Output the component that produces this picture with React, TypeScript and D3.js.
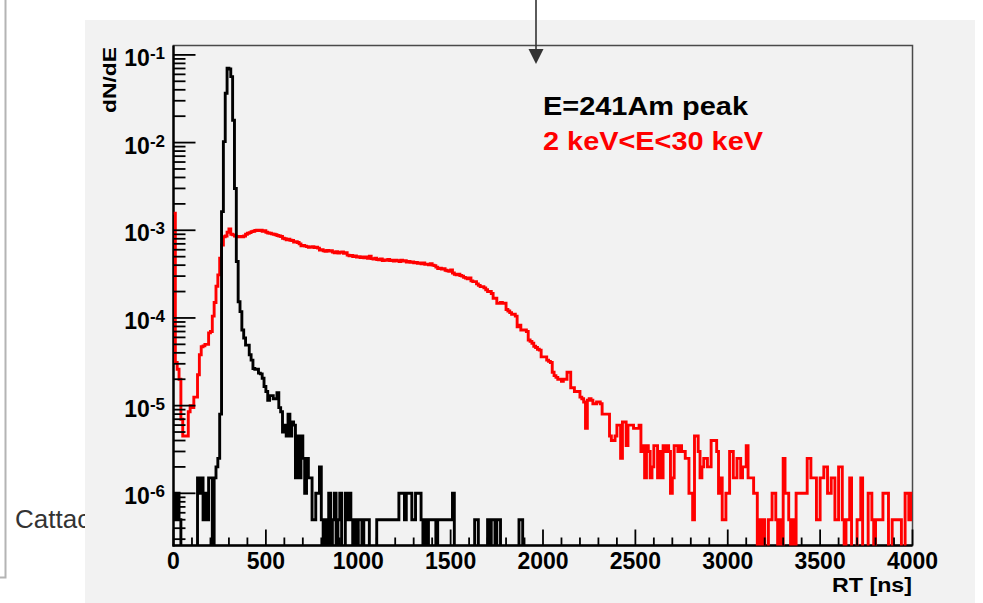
import React from 'react';
import * as d3 from 'd3';

const W = 983;
const H = 603;

// histogram binning: 400 bins of 10 ns from 0 to 4000 ns
const BIN_NS = 10;
// normalisation of one entry (dN/dE per count)
const COUNT_UNIT = 5e-7;

// black: E = 241Am peak (counts per bin)
const amPeakCounts = [
  2, 1, 2, 1, 0, 0, 0, 0, 0, 0,
  0, 0, 0, 3, 2, 3, 1, 2, 1, 3,
  3, 0, 3, 4, 5, 16, 3260, 20500, 73000, 141000,
  138000, 113000, 36000, 6000, 880, 306, 236, 146, 118, 98,
  98, 76, 66, 53, 52, 52, 47, 46, 41, 33,
  29, 23, 26, 26, 24, 24, 28, 19, 17, 10,
  12, 9, 16, 9, 13, 12, 3, 9, 3, 9,
  5, 2, 5, 3, 3, 1, 1, 2, 2, 4,
  1, 0, 1, 0, 2, 0, 1, 2, 0, 1,
  2, 0, 0, 2, 1, 2, 1, 0, 1, 0,
  1, 1, 0, 1, 1, 1, 0, 0, 0, 0,
  1, 1, 1, 1, 1, 1, 1, 1, 1, 1,
  1, 1, 2, 2, 2, 1, 2, 2, 2, 1,
  1, 2, 2, 2, 1, 0, 1, 0, 1, 1,
  1, 1, 0, 1, 1, 1, 1, 1, 1, 1,
  1, 2, 0, 0, 0, 0, 0, 0, 0, 0,
  0, 0, 0, 1, 1, 0, 0, 0, 0, 0,
  1, 0, 1, 1, 0, 1, 1, 0, 0, 0,
  0, 0, 0, 0, 0, 0, 0, 1, 1, 0,
  0, 0, 0, 0, 0, 0, 0, 0, 0, 0,
  0, 0, 0, 0, 0, 0, 0, 0, 0, 0,
  0, 0, 0, 0, 0, 0, 0, 0, 0, 0,
  0, 0, 0, 0, 0, 0, 0, 0, 0, 0,
  0, 0, 0, 0, 0, 0, 0, 0, 0, 0,
  0, 0, 0, 0, 0, 0, 0, 0, 0, 0,
  0, 0, 0, 0, 0, 0, 0, 0, 0, 0,
  0, 0, 0, 0, 0, 0, 0, 0, 0, 0,
  0, 0, 0, 0, 0, 0, 0, 0, 0, 0,
  0, 0, 0, 0, 0, 0, 0, 0, 0, 0,
  0, 0, 0, 0, 0, 0, 0, 0, 0, 0,
  0, 0, 0, 0, 0, 0, 0, 0, 0, 0,
  0, 0, 0, 0, 0, 0, 0, 0, 0, 0,
  0, 0, 0, 0, 0, 0, 0, 0, 0, 0,
  0, 0, 0, 0, 0, 0, 0, 0, 0, 0,
  0, 0, 0, 0, 0, 0, 0, 0, 0, 0,
  0, 0, 0, 0, 0, 0, 0, 0, 0, 0,
  0, 0, 0, 0, 0, 0, 0, 0, 0, 0,
  0, 0, 0, 0, 0, 0, 0, 0, 0, 0,
  0, 0, 0, 0, 0, 0, 0, 0, 0, 0,
  0, 0, 0, 0, 0, 0, 0, 0, 0, 0,
];

// red: 2 keV < E < 30 keV (counts per bin)
const lowEnergyCounts = [
  3130, 62, 52, 40, 14, 9, 9, 9, 17, 20,
  19, 25, 25, 45, 76, 94, 96, 100, 100, 135,
  140, 210, 300, 460, 620, 960, 1360, 1690, 1720, 1900,
  2070, 1800, 1770, 1720, 1700, 1690, 1700, 1680, 1720, 1800,
  1850, 1880, 1930, 1950, 1990, 2010, 1990, 2000, 1950, 1980,
  1900, 1860, 1850, 1820, 1800, 1780, 1740, 1720, 1700, 1620,
  1600, 1560, 1580, 1540, 1530, 1470, 1480, 1450, 1400, 1330,
  1340, 1320, 1300, 1280, 1290, 1300, 1270, 1280, 1250, 1190,
  1200, 1170, 1150, 1180, 1160, 1170, 1130, 1110, 1140, 1100,
  1120, 1130, 1090, 1110, 1040, 1020, 1030, 1000, 1020, 990,
  1000, 980, 990, 970, 990, 960, 1010, 950, 940, 960,
  930, 920, 940, 900, 920, 910, 930, 900, 910, 890,
  910, 900, 880, 910, 890, 900, 870, 880, 860, 870,
  850, 860, 840, 850, 830, 850, 820, 820, 810, 830,
  800, 790, 760, 730, 740, 720, 730, 700, 690, 680,
  705, 650, 630, 620, 630, 610, 600, 580, 571, 560,
  571, 530, 519, 519, 490, 470, 455, 455, 440, 420,
  400, 400, 380, 335, 335, 294, 294, 300, 294, 294,
  250, 240, 230, 220, 220, 210, 159, 165, 146, 146,
  146, 140, 112, 108, 103, 95, 92, 88, 86, 72,
  72, 72, 66, 64, 62, 48, 44, 42, 40, 40,
  38, 40, 40, 48, 48, 32, 32, 29, 29, 29,
  25, 24, 22, 11, 23, 24, 23, 21, 21, 22,
  22, 21, 16, 16, 16, 16, 9, 8, 8, 9,
  12, 12, 5, 13, 13, 7, 12, 12, 12, 11,
  11, 11, 12, 6, 7, 3, 7, 6, 3, 4,
  7, 7, 3, 6, 3, 7, 6, 7, 6, 2,
  3, 7, 7, 6, 7, 6, 6, 5, 5, 2,
  2, 1, 9, 9, 6, 3, 4, 5, 5, 4,
  4, 8, 8, 8, 6, 2, 3, 1, 1, 2,
  2, 6, 6, 3, 3, 5, 5, 3, 4, 4,
  7, 3, 3, 3, 2, 2, 0, 1, 0, 1,
  0, 0, 1, 1, 2, 2, 1, 0, 1, 0,
  5, 2, 2, 1, 0, 1, 0, 2, 2, 2,
  2, 2, 2, 5, 5, 3, 3, 3, 1, 1,
  3, 3, 4, 4, 2, 2, 3, 3, 1, 1,
  4, 4, 1, 0, 1, 1, 3, 0, 0, 0,
  1, 1, 3, 0, 0, 0, 2, 2, 1, 0,
  1, 1, 1, 1, 2, 2, 2, 0, 0, 1,
  1, 1, 1, 1, 0, 0, 2, 2, 1, 2,
];

const xTickValues = [0, 500, 1000, 1500, 2000, 2500, 3000, 3500, 4000];
const yDecadeExponents = [-6, -5, -4, -3, -2, -1];
const legendLabels = ['E=241Am peak', '2 keV<E<30 keV'];
const seriesColors = ['#000000', '#ff0000'];
const xTitle = 'RT [ns]';
const yTitle = 'dN/dE';
const sideText = 'Cattac';

const frame = { left: 173.5, right: 912.5, top: 45.5, bottom: 545.5 };
const FONT = '"Liberation Sans", Arial, Helvetica, sans-serif';

export default function App() {
  const x = d3.scaleLinear().domain([0, 4000]).range([frame.left, frame.right]);
  const y = d3.scaleLog().domain([2.54e-7, 0.128]).range([frame.bottom, frame.top]);

  const histPath = (counts: number[]) => {
    const pts: [number, number][] = counts.map((c, i) => [i * BIN_NS, c * COUNT_UNIT]);
    pts.push([counts.length * BIN_NS, counts[counts.length - 1] * COUNT_UNIT]);
    const line = d3
      .line<[number, number]>()
      .x((d) => x(d[0]))
      .y((d) => (d[1] > 0 ? y(d[1]) : frame.bottom + 3))
      .curve(d3.curveStepAfter);
    return line(pts) || '';
  };

  const xMinor: number[] = [];
  for (let v = 0; v <= 4000; v += 100) if (v % 500 !== 0) xMinor.push(v);

  const [yLo, yHi] = y.domain();
  const yMinor: number[] = [];
  for (let e = -7; e <= -1; e++) {
    for (let m = 2; m <= 9; m++) {
      const v = m * Math.pow(10, e);
      if (v >= yLo && v <= yHi) yMinor.push(v);
    }
  }

  return (
    <svg width={W} height={H} style={{ position: 'absolute', left: 0, top: 0, background: '#ffffff' }}>
      <defs>
        <clipPath id="plotClip">
          <rect x={frame.left} y={frame.top} width={frame.right - frame.left} height={frame.bottom - frame.top} />
        </clipPath>
      </defs>
      <rect x={0} y={0} width={W} height={H} fill="#ffffff" />
      {/* left page box corner */}
      <path d="M5.5,0 V577.5 H0" fill="none" stroke="#b4b4b4" strokeWidth={2} />
      <text x={15} y={528} fontFamily={FONT} fontSize={26} fill="#333333">{sideText}</text>

      {/* canvas */}
      <rect x={85} y={20} width={890} height={583} fill="#f2f2f2" />

      {/* frame */}
      <rect x={frame.left} y={frame.top} width={frame.right - frame.left} height={frame.bottom - frame.top}
        fill="none" stroke="#4a4a4a" strokeWidth={1.5} />
      <line x1={frame.left} x2={frame.left} y1={frame.top} y2={frame.bottom + 1} stroke="#000" strokeWidth={2.4} />
      <line x1={frame.left - 1} x2={frame.right} y1={frame.bottom} y2={frame.bottom} stroke="#000" strokeWidth={2.4} />

      {/* histograms */}
      <g clipPath="url(#plotClip)" fill="none" strokeLinejoin="miter">
        <path d={histPath(lowEnergyCounts)} stroke={seriesColors[1]} strokeWidth={2.9} />
        <path d={histPath(amPeakCounts)} stroke={seriesColors[0]} strokeWidth={2.9} />
      </g>

      {/* ticks */}
      <g stroke="#000" strokeWidth={1.8}>
        {xTickValues.map((v) => (
          <line key={'xM' + v} x1={x(v)} x2={x(v)} y1={frame.bottom} y2={frame.bottom - 16} />
        ))}
        {xMinor.map((v) => (
          <line key={'xm' + v} x1={x(v)} x2={x(v)} y1={frame.bottom} y2={frame.bottom - 8} />
        ))}
        {yDecadeExponents.map((e) => (
          <line key={'yM' + e} x1={frame.left} x2={frame.left + 22} y1={y(Math.pow(10, e))} y2={y(Math.pow(10, e))} />
        ))}
        {yMinor.map((v, i) => (
          <line key={'ym' + i} x1={frame.left} x2={frame.left + 12} y1={y(v)} y2={y(v)} />
        ))}
      </g>

      {/* x tick labels */}
      <g fontFamily={FONT} fontWeight="bold" fontSize={23} fill="#000" textAnchor="middle">
        {xTickValues.map((v) => (
          <text key={'xl' + v} x={x(v)} y={569}>{v}</text>
        ))}
      </g>

      {/* y tick labels */}
      <g fontFamily={FONT} fontWeight="bold" fill="#000" textAnchor="end">
        {yDecadeExponents.map((e) => (
          <text key={'yl' + e} x={165} y={y(Math.pow(10, e)) + 11} fontSize={23}>
            10<tspan fontSize={17} dy={-7}>{String(e)}</tspan>
          </text>
        ))}
      </g>

      {/* axis titles */}
      <text x={912} y={592} fontFamily={FONT} fontWeight="bold" fontSize={21} textAnchor="end"
        textLength={80} lengthAdjust="spacingAndGlyphs">{xTitle}</text>
      <text transform="translate(116,47) rotate(-90)" fontFamily={FONT} fontWeight="bold" fontSize={19}
        textAnchor="end" textLength={66} lengthAdjust="spacingAndGlyphs">{yTitle}</text>

      {/* legend texts */}
      <text x={543} y={115} fontFamily={FONT} fontWeight="bold" fontSize={25} fill={seriesColors[0]}
        textLength={205} lengthAdjust="spacingAndGlyphs">{legendLabels[0]}</text>
      <text x={543} y={150} fontFamily={FONT} fontWeight="bold" fontSize={25} fill={seriesColors[1]}
        textLength={220} lengthAdjust="spacingAndGlyphs">{legendLabels[1]}</text>

      {/* arrow */}
      <line x1={536} x2={536} y1={0} y2={52} stroke="#333333" strokeWidth={1.6} />
      <path d="M528.5,49 L543.5,49 L536,64 Z" fill="#333333" />
    </svg>
  );
}
